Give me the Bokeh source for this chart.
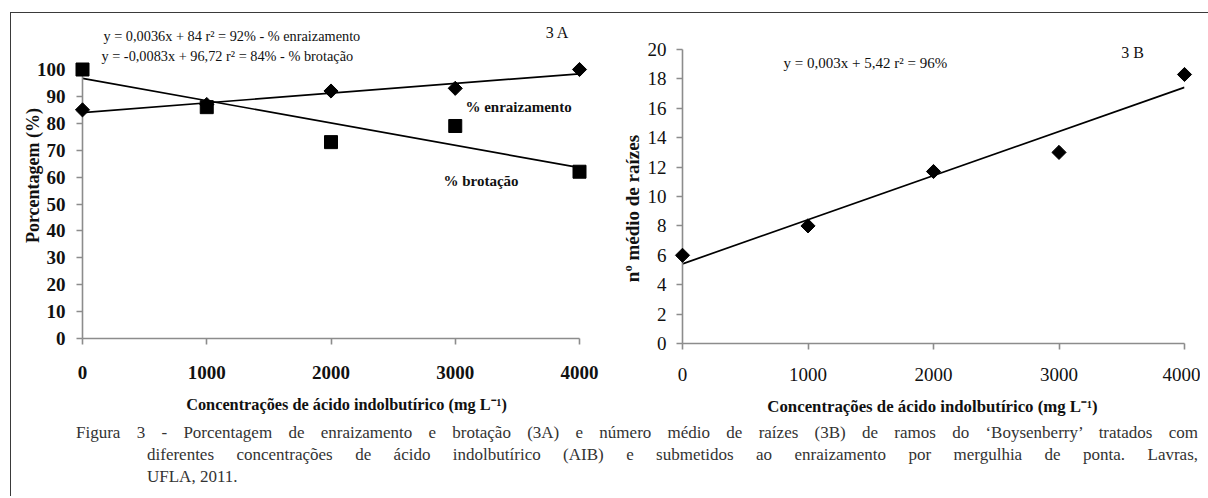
import numpy as np
from bokeh.plotting import figure
from bokeh.models import FixedTicker, Div
from bokeh.core.properties import value
from bokeh.layouts import row, column
from bokeh.embed import file_html
from bokeh.resources import INLINE

# ---------------- data ----------------
conc = [0, 1000, 2000, 3000, 4000]
enraizamento = [85, 87, 92, 93, 100]          # % enraizamento (diamonds)
brotacao = [100, 86, 73, 79, 62]              # % brotação (squares)
raizes = [6.0, 8.0, 11.7, 13.0, 18.3]         # nº médio de raízes
trend_x = [0, 4000]
trend_enraizamento = [84.0, 98.4]             # y = 0,0036x + 84
trend_brotacao = [96.72, 63.52]               # y = -0,0083x + 96,72
trend_raizes = [5.42, 17.42]                  # y = 0,003x + 5,42
x_ticks = [0, 1000, 2000, 3000, 4000]
yA_ticks = [0, 10, 20, 30, 40, 50, 60, 70, 80, 90, 100]
yB_ticks = [0, 2, 4, 6, 8, 10, 12, 14, 16, 18, 20]

eq_enr = "y = 0,0036x + 84  r² = 92% - % enraizamento"
eq_bro = "y = -0,0083x + 96,72  r² = 84% - % brotação"
eq_rai = "y = 0,003x + 5,42  r² = 96%"
x_title = "Concentrações de ácido indolbutírico (mg L⁻¹)"

SERIF = "Liberation Serif"
AXIS_GREY = "#8c8c8c"


def make_fig(width, height, yr, yticks, ml, mr, mt, mb, bold, ystand, xstand):
    p = figure(width=width, height=height, x_range=(0, 4000), y_range=yr,
               output_backend="svg", toolbar_location=None,
               min_border_left=ml, min_border_right=mr,
               min_border_top=mt, min_border_bottom=mb)
    p.frame_align = False
    p.grid.visible = False
    p.outline_line_color = None
    p.background_fill_color = "white"
    p.border_fill_color = "white"
    p.xaxis.ticker = FixedTicker(ticks=x_ticks)
    p.yaxis.ticker = FixedTicker(ticks=yticks)
    for ax in (p.xaxis, p.yaxis):
        ax.axis_line_color = AXIS_GREY
        ax.axis_line_width = 1.6
        ax.major_tick_line_color = AXIS_GREY
        ax.major_tick_line_width = 1.6
        ax.major_tick_in = 0
        ax.major_tick_out = 6
        ax.minor_tick_in = 0
        ax.minor_tick_out = 0
        ax.major_label_text_font = SERIF
        ax.major_label_text_font_size = "19px"
        ax.major_label_text_color = "#111111"
        ax.major_label_text_font_style = "bold" if bold else "normal"
    p.yaxis.major_label_standoff = ystand
    p.xaxis.major_label_standoff = xstand
    return p


def lab(p, x, y, text, size, style="normal", align="left", angle=0.0):
    # text glyph on the overlay level, so it is not clipped to the plot frame
    p.text(x=[x], y=[y], text=[text], text_font=value(SERIF),
           text_font_size=value(size), text_font_style=style,
           text_color="#111111", text_align=align, text_baseline="middle",
           angle=angle, level="overlay")


# ---------------- 3A ----------------
pA = make_fig(608, 418, (0, 100), yA_ticks, 82, 29, 69, 80, True, 11, 21)
pA.line(trend_x, trend_enraizamento, line_color="black", line_width=1.7)
pA.line(trend_x, trend_brotacao, line_color="black", line_width=1.7)
pA.scatter(conc, enraizamento, marker="square", angle=np.pi / 4, size=10,
           color="black", level="overlay")
pA.scatter(conc, brotacao, marker="square", size=13, color="black",
           level="overlay")

lab(pA, 169, 112.6, eq_enr, "14.3px")
lab(pA, 153, 105.2, eq_bro, "14.3px")
lab(pA, 3823, 113.8, "3 A", "16px", align="center")
lab(pA, 3082, 85.9, "% enraizamento", "15px", style="bold")
lab(pA, 2905, 58.7, "% brotação", "15px", style="bold")
lab(pA, -402, 60.6, "Porcentagem (%)", "18px", style="bold", align="center",
    angle=np.pi / 2)
lab(pA, 2125, -24.5, x_title, "16.3px", style="bold", align="center")

# ---------------- 3B ----------------
pB = make_fig(592, 418, (0, 20), yB_ticks, 74, 16, 49, 75, False, 10, 18)
pB.line(trend_x, trend_raizes, line_color="black", line_width=1.7)
pB.scatter(conc, raizes, marker="square", angle=np.pi / 4, size=10,
           color="black", level="overlay")
lab(pB, 805, 19.1, eq_rai, "15px")
lab(pB, 3586, 19.8, "3 B", "16px", align="center")
lab(pB, -398, 9.18, "nº médio de raízes", "19px", style="bold",
    align="center", angle=np.pi / 2)
lab(pB, 1992, -4.29, x_title, "16.8px", style="bold", align="center")

# ---------------- caption (with the figure's frame lines) ----------------
cap_html = (
    "<div style=\"position:relative;width:1200px;height:72px;"
    "font-family:'Liberation Serif';font-size:17px;line-height:22px;color:#333333;\">"
    "<div style=\"position:absolute;left:10px;top:-406px;width:1198px;height:484px;"
    "border-left:1.5px solid #3a3a3a;border-top:1.5px solid #3a3a3a;"
    "box-sizing:border-box;pointer-events:none;\"></div>"
    "<div style=\"position:absolute;left:76px;top:4px;width:1122px;"
    "text-align:justify;text-align-last:justify;white-space:nowrap;\">"
    "Figura 3 - Porcentagem de enraizamento e brotação (3A) e número médio de raízes (3B) de ramos do "
    "‘Boysenberry’ tratados com</div>"
    "<div style=\"position:absolute;left:147px;top:26px;width:1051px;"
    "text-align:justify;text-align-last:justify;\">"
    "diferentes concentrações de ácido indolbutírico (AIB) e submetidos ao enraizamento por mergulhia de ponta. Lavras,</div>"
    "<div style=\"position:absolute;left:147px;top:48px;\">UFLA, 2011.</div>"
    "</div>"
)
cap = Div(text=cap_html, width=1200, height=72, margin=0)

layout = column(row(pA, pB), cap)

open("out.html", "w").write(file_html(layout, INLINE))
